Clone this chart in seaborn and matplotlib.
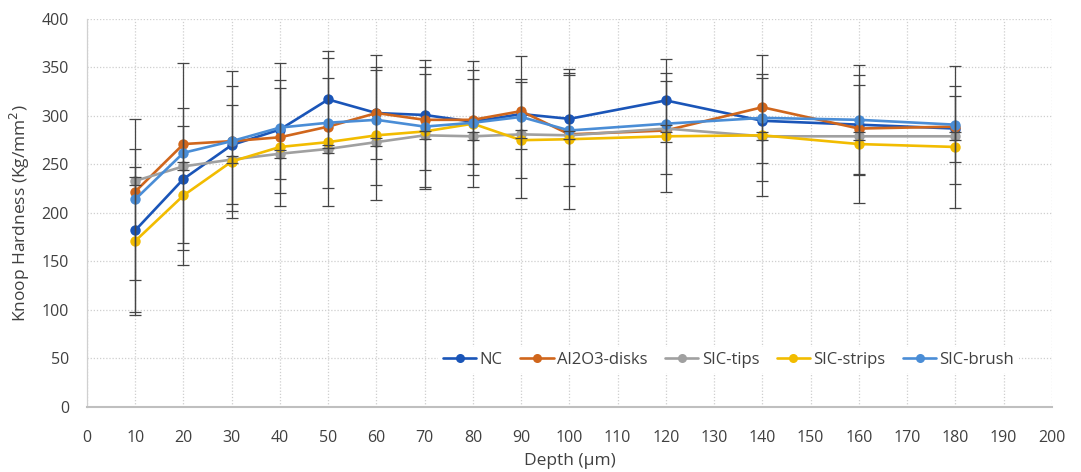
import numpy as np
import pandas as pd
import matplotlib
matplotlib.use("Agg")
import matplotlib.pyplot as plt
from matplotlib.lines import Line2D
import seaborn as sns

depth = [10, 20, 30, 40, 50, 60, 70, 80, 90, 100, 120, 140, 160, 180]

series_names = ["NC", "Al2O3-disks", "SIC-tips", "SIC-strips", "SIC-brush"]
nc = [182, 235, 270, 286, 317, 303, 301, 294, 302, 297, 316, 295, 291, 287]
al2o3 = [222, 271, 274, 278, 289, 303, 296, 296, 305, 281, 285, 309, 287, 289]
sic_tips = [233, 248, 255, 261, 266, 273, 280, 279, 281, 280, 287, 279, 279, 279]
sic_strips = [171, 218, 253, 268, 273, 280, 284, 292, 275, 276, 279, 280, 271, 268]
sic_brush = [214, 262, 274, 288, 293, 296, 289, 293, 299, 285, 292, 298, 296, 291]

nc_err = [84, 73, 61, 51, 50, 47, 57, 44, 36, 47, 43, 44, 51, 34]
al2o3_err = [0, 0, 0, 0, 0, 0, 0, 0, 0, 0, 0, 0, 0, 0]
sic_tips_err = [4, 4, 4, 4, 4, 4, 4, 4, 4, 4, 4, 4, 4, 4]
sic_strips_err = [76, 72, 58, 61, 66, 67, 59, 65, 60, 72, 57, 63, 61, 63]
sic_brush_err = [83, 93, 72, 67, 67, 67, 62, 54, 63, 57, 52, 65, 57, 61]

colors = ["#1A55B8", "#D0661C", "#A0A0A0", "#F2BC00", "#4A8DD6"]

values = [nc, al2o3, sic_tips, sic_strips, sic_brush]
errors = [nc_err, al2o3_err, sic_tips_err, sic_strips_err, sic_brush_err]

sns.set_theme(style="white")
plt.rcParams["font.family"] = ["Open Sans", "DejaVu Sans"]

fig = plt.figure(figsize=(10.81, 4.72), dpi=100)
ax = fig.add_axes([0.0805, 0.1383, 0.8925, 0.8214])

for name, vals, col in zip(series_names, values, colors):
    sns.lineplot(x=depth, y=vals, color=col, marker="o", markersize=7.5,
                 markeredgewidth=0, linewidth=1.9, ax=ax, zorder=3,
                 label=name, legend=False)

for vals, errs in zip(values, errors):
    e = np.array(errs)
    if e.max() > 0:
        ax.errorbar(depth, vals, yerr=e, fmt="none", ecolor="#454545",
                    elinewidth=0.9, capsize=4, capthick=0.9, zorder=4)

ax.set_xlim(0, 200)
ax.set_ylim(0, 400)
ax.set_xticks(np.arange(0, 201, 10))
ax.set_yticks(np.arange(0, 401, 50))
ax.tick_params(axis="both", length=0, labelsize=11.5, colors="#404040")
ax.tick_params(axis="x", pad=17)
ax.tick_params(axis="y", pad=13)

ax.grid(True, which="major", color="#CFCFCF", linestyle=(0, (1, 1.5)), linewidth=0.9)
ax.set_axisbelow(True)
for s in ["top", "right"]:
    ax.spines[s].set_visible(False)
ax.spines["left"].set_color("#D0D0D0")
ax.spines["left"].set_linewidth(0.9)
ax.spines["bottom"].set_color("#BFBFBF")
ax.spines["bottom"].set_linewidth(1.5)

ax.set_xlabel("Depth (\u00b5m)", fontsize=12.5, color="#404040", labelpad=5)
ax.set_ylabel("Knoop Hardness (Kg/mm$^2$)", fontsize=12.5, color="#404040", labelpad=7)

handles = [Line2D([0], [0], color=c, marker="o", markersize=6.5, markeredgewidth=0,
                  linewidth=1.9) for c in colors]
leg = ax.legend(handles, series_names, ncol=5, loc="center right",
                bbox_to_anchor=(0.975, 0.12), frameon=True, fontsize=12,
                handlelength=2.0, handletextpad=0.2, columnspacing=1.05,
                borderpad=0.3, labelcolor="#404040")
leg.get_frame().set_facecolor("white")
leg.get_frame().set_edgecolor("none")
leg.get_frame().set_alpha(1.0)

fig.savefig("out.png", dpi=100)
